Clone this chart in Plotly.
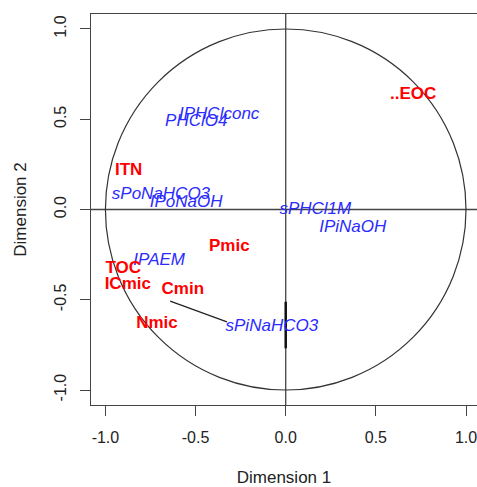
import plotly.graph_objects as go

# variables shown in red (bold)
red_labels = ['..EOC', 'ITN', 'Pmic', 'TOC', 'ICmic', 'Cmin', 'Nmic']
red_x = [0.707, -0.871, -0.313, -0.901, -0.876, -0.571, -0.714]
red_y = [0.634, 0.215, -0.209, -0.330, -0.418, -0.442, -0.631]

# variables shown in blue (italic)
blue_labels = ['IPHClconc', 'PHClO4', 'sPoNaHCO3', 'IPoNaOH', 'sPHCl1M',
               'IPiNaOH', 'IPAEM', 'sPiNaHCO3']
blue_x = [-0.369, -0.496, -0.692, -0.552, 0.164, 0.372, -0.702, -0.077]
blue_y = [0.524, 0.486, 0.080, 0.038, 0.001, -0.101, -0.284, -0.649]

# leader line Cmin -> sPiNaHCO3 and short segment on the y axis
leader_x = [-0.641, -0.326]
leader_y = [-0.507, -0.622]
seg_x = [0.0, 0.0]
seg_y = [-0.511, -0.769]

radius = 1.0
ticks = [-1.0, -0.5, 0.0, 0.5, 1.0]
tick_text = ['-1.0', '-0.5', '0.0', '0.5', '1.0']

fig = go.Figure()

fig.add_trace(go.Scatter(x=leader_x, y=leader_y, mode='lines',
                         line=dict(color='#222', width=1.3), showlegend=False))
fig.add_trace(go.Scatter(x=seg_x, y=seg_y, mode='lines',
                         line=dict(color='#111', width=2.5), showlegend=False))

fig.add_trace(go.Scatter(
      x=blue_x, y=blue_y, text=blue_labels, mode='text',
      textfont=dict(family='Liberation Sans, Arial', size=17, color='#2b2bff', style='italic'),
      showlegend=False
))
fig.add_trace(go.Scatter(
      x=red_x, y=red_y, text=red_labels, mode='text',
      textfont=dict(family='Liberation Sans, Arial', size=17, color='#ff0000', weight='bold'),
      showlegend=False
))

# unit circle and axes through origin
fig.add_shape(type='circle', x0=-radius, y0=-radius, x1=radius, y1=radius,
              line=dict(color='#333', width=1.2), layer='below')
fig.add_hline(y=0, line=dict(color='#444', width=1.3), layer='below')
fig.add_vline(x=0, line=dict(color='#444', width=1.3), layer='below')

fig.update_layout(
      width=477, height=487,
      margin=dict(l=91, r=0, t=14, b=82),
      plot_bgcolor='white', paper_bgcolor='white',
      font=dict(family='Liberation Sans, Arial', color='#222'),
)
fig.update_xaxes(
      range=[-1.08, 1.061], showgrid=False, zeroline=False,
      showline=True, mirror=True, linecolor='#444', linewidth=1.3,
      ticks='outside', ticklen=10, tickcolor='#444', tickwidth=1.3,
      tickvals=ticks, ticktext=tick_text, tickfont=dict(size=16), ticklabelstandoff=8,
      ticklabeloverflow='allow',
      title=dict(text='Dimension 1', font=dict(size=17), standoff=28)
)
fig.update_yaxes(
      range=[-1.083, 1.083], showgrid=False, zeroline=False,
      showline=True, linecolor='#444', linewidth=1.3,
      ticks='outside', ticklen=10, tickcolor='#444', tickwidth=1.3,
      tickvals=ticks, ticktext=tick_text, tickfont=dict(size=16), tickangle=-90,
      ticklabelstandoff=7,
      title=dict(text='Dimension 2', font=dict(size=17), standoff=21)
)

# page body has a default 8px margin; remove it (and scrollbars) so the figure sits at 0,0
fig.write_html(
      "out.html",
      config={'displayModeBar': False},
      post_script="document.body.style.margin='0'; document.body.style.overflow='hidden';"
)
